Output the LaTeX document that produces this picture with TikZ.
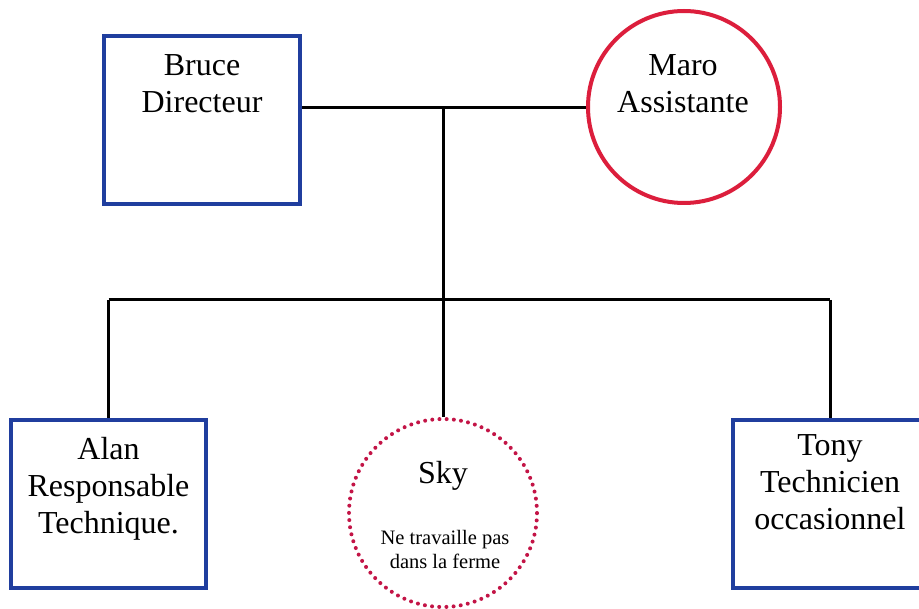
\documentclass[tikz,border=0pt]{standalone}
\usepackage{fontspec}
\setmainfont{Liberation Serif}
\newfontfamily\timesfont{Liberation Serif}
\definecolor{boxblue}{RGB}{32,62,158}
\definecolor{circred}{RGB}{220,30,60}
\definecolor{dotred}{RGB}{195,20,70}
\tikzset{
  pbox/.style={draw=boxblue, line width=4.5pt, fill=white, inner sep=0pt},
  pcirc/.style={circle, draw=circred, line width=4pt, inner sep=0pt},
  pdot/.style={circle, draw=dotred, line width=4pt, line cap=round, dash pattern=on 0pt off 7.2pt, inner sep=0pt},
  conn/.style={draw=black, line width=3pt},
  big/.style={font=\timesfont\fontsize{32}{37}\selectfont, align=center, anchor=north, inner sep=0pt},
  small/.style={font=\timesfont\fontsize{20.5}{24}\selectfont, align=center, anchor=north, inner sep=0pt}
}
\begin{document}
\begin{tikzpicture}[x=1pt,y=-1pt]
\useasboundingbox[fill=white] (0,0) rectangle (919,609);
% shapes
\node[pbox, minimum width=196pt, minimum height=168pt] (bruce) at (202,120) {};
\node[pcirc, minimum size=192pt] (maro) at (684,107) {};
\node[pbox, minimum width=195pt, minimum height=168pt] (alan) at (108.5,504) {};
\node[pdot, minimum size=188pt] (sky) at (443,513) {};
\node[pbox, minimum width=194pt, minimum height=168pt] (tony) at (830,504) {};
% texts
\node[big] (tbruce) at (202,54) {Bruce\\Directeur};
\node[big] (tmaro) at (683,54) {Maro\\Assistante};
\node[big] (talan) at (108.5,437) {Alan\\Responsable\\Technique.};
\node[big] (ttony) at (830,434) {Tony\\Technicien\\occasionnel};
\node[big] (tsky) at (443,461) {Sky};
\node[small] (tnote) at (445,530) {Ne travaille pas\\dans la ferme};
% connectors
\coordinate (hub) at (443,108);
\coordinate (bar) at (443,300);
\draw[conn] (bruce.east |- hub) -- (maro.west |- hub);
\draw[conn] (hub) -- (bar);
\draw[conn] (alan.north |- bar) -- (tony.north |- bar);
\draw[conn] (alan.north |- bar) -- (alan.north);
\draw[conn] (bar) -- (sky.north);
\draw[conn] (tony.north |- bar) -- (tony.north);
\end{tikzpicture}
\end{document}
